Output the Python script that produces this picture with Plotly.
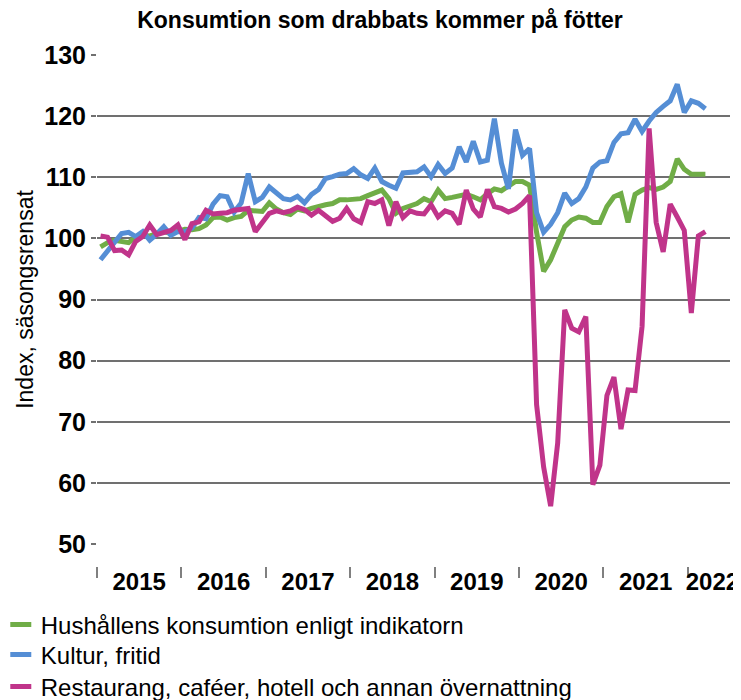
import plotly.graph_objects as go

years = ["2015", "2016", "2017", "2018", "2019", "2020", "2021", "2022"]
# Monthly values, Jan 2015 – Mar 2022
hushall = [
    98.6, 99.3, 99.7, 99.6, 99.3, 100.2, 100.5, 100.4, 100.8, 101.1, 100.8, 101.2,
    101.5, 101.4, 101.6, 102.2, 103.4, 103.5, 103.0, 103.4, 103.6, 104.6, 104.5, 104.4,
    105.8, 104.8, 104.2, 103.9, 104.8, 104.5, 104.9, 105.3, 105.5, 105.7, 106.3, 106.3,
    106.5, 106.5, 107.0, 107.5, 107.9, 106.5, 104.1, 104.9, 105.3, 105.7, 106.5, 106.0,
    107.9, 106.5, 106.7, 106.9, 107.2, 106.8, 106.3, 107.3, 108.1, 107.8, 108.5, 109.3,
    109.3, 108.7, 101.0, 94.6, 96.5, 99.2, 101.9, 103.0, 103.5, 103.3, 102.6, 102.6,
    105.2, 106.8, 107.3, 102.6, 107.2, 107.9, 108.3, 108.0, 108.4, 109.3, 113.0, 111.3,
    110.5, 110.5, 110.5,
]
kultur = [
    96.5, 97.9, 99.2, 100.8, 101.0, 100.3, 101.1, 99.7, 100.7, 101.9, 100.5, 101.1,
    101.1, 101.7, 103.4, 103.2, 105.6, 107.0, 106.8, 104.3, 105.8, 110.6, 106.0, 106.7,
    108.4, 107.4, 106.5, 106.3, 106.9, 105.8, 107.2, 108.0, 109.8, 110.1, 110.5, 110.6,
    111.4, 110.4, 109.8, 111.5, 109.3, 108.7, 108.2, 110.7, 110.7, 110.9, 111.7, 110.1,
    112.1, 110.6, 111.5, 115.0, 112.5, 115.9, 112.5, 112.8, 119.6, 112.3, 108.1, 117.8,
    113.6, 114.7, 104.2, 101.0, 102.3, 104.2, 107.4, 105.7, 106.5, 108.4, 111.5, 112.5,
    112.7, 115.7, 117.1, 117.3, 119.5, 117.5, 119.2, 120.6, 121.6, 122.5, 125.2, 120.6,
    122.5, 122.1, 121.2,
]
restaurang = [
    100.4, 100.2, 98.0, 98.1, 97.3, 99.5, 100.3, 102.2, 100.6, 100.9, 101.3, 102.2,
    99.8, 102.4, 102.7, 104.6, 104.0, 104.1, 104.2, 104.6, 104.7, 104.9, 101.1, 102.7,
    104.1, 104.5, 104.2, 104.5, 105.1, 104.7, 103.8, 104.6, 103.6, 102.8, 103.3, 104.9,
    103.2, 102.6, 106.0, 105.7, 106.3, 102.1, 106.0, 103.4, 104.5, 104.1, 104.0, 105.5,
    103.5, 104.5, 104.1, 102.3, 107.9, 104.8, 103.5, 108.0, 105.2, 104.9, 104.3, 104.8,
    105.7, 107.0, 72.8, 62.6, 56.2, 66.5, 88.3, 85.3, 84.7, 87.2, 59.7, 62.9,
    74.3, 77.3, 68.8, 75.2, 75.1, 85.6, 118.0, 102.6, 97.8, 105.6, 103.5, 101.3,
    87.8, 100.4, 101.1,
]
names = [
    "Hushållens konsumtion enligt indikatorn",
    "Kultur, fritid",
    "Restaurang, caféer, hotell och annan övernattning",
]
colors = ["#70AD47", "#558ED5", "#C0348A"]

months = list(range(len(hushall)))
n_slots = 90
FONT = "Liberation Sans, Arial, sans-serif"

# page body has an 8px margin, so the figure is sized to the visible area
W, H = 733, 692
PLOT_L, PLOT_R, PLOT_T, PLOT_B = 89, 722, 47, 558
PH = PLOT_B - PLOT_T

year_label_pos = [12 * k + 5.5 for k in range(len(years) - 1)] + [87.0]
year_bounds = [12 * k - 0.5 for k in range(len(years))]

fig = go.Figure()
for vals, name, col in zip([hushall, kultur, restaurang], names, colors):
    fig.add_trace(go.Scatter(x=months, y=vals, mode="lines", name=name,
                             line=dict(color=col, width=5), showlegend=False,
                             hoverinfo="skip"))
legend_ids = ["legend", "legend2", "legend3"]
for name, col, lg in zip(names, colors, legend_ids):
    fig.add_trace(go.Scatter(x=[None], y=[None], mode="markers", name=name,
                             xaxis="x2",
                             marker=dict(symbol="line-ew", size=15,
                                         line=dict(color=col, width=5)),
                             showlegend=True, legend=lg))

legend_screen_y = [625, 655, 687]
legend_common = dict(x=-0.152, xanchor="left", yanchor="middle",
                     font=dict(size=24, family=FONT, color="black"),
                     bgcolor="rgba(0,0,0,0)", itemwidth=30)
legends = {}
for lg, sy in zip(legend_ids, legend_screen_y):
    d = dict(legend_common)
    d["y"] = (PLOT_B - (sy - 8)) / PH
    legends[lg] = d

fig.update_layout(
    width=W, height=H,
    margin=dict(l=PLOT_L, r=W - PLOT_R, t=PLOT_T, b=H - PLOT_B, autoexpand=False),
    plot_bgcolor="white", paper_bgcolor="white",
    font=dict(family=FONT, color="black"),
    title=dict(text="<b>Konsumtion som drabbats kommer på fötter</b>",
               x=372 / W, xref="container", xanchor="center",
               y=1 - 4 / H, yref="container", yanchor="top",
               pad=dict(t=0, b=0, l=0, r=0),
               font=dict(size=23, family=FONT, color="black")),
    xaxis=dict(range=[-0.5, n_slots - 0.5], showgrid=False, zeroline=False,
               showline=False, automargin=False, showticklabels=False,
               tickvals=year_bounds, ticks="outside", ticklen=11, tickwidth=1.5,
               tickcolor="#808080",
               anchor="free", position=0),
    xaxis2=dict(range=[-0.5, n_slots - 0.5], overlaying="x", matches="x",
                showgrid=False, zeroline=False, showline=False,
                automargin=False,
                tickvals=year_label_pos,
                ticktext=["<b>%s</b>" % y for y in years],
                ticks="", ticklen=0,
                tickfont=dict(size=24, family=FONT, color="black"),
                anchor="free", position=1 / PH, side="bottom"),
    yaxis=dict(range=[50, 130], domain=[22 / PH, 1], dtick=10,
               showgrid=True, gridcolor="#707070", gridwidth=1.6,
               zeroline=False, showline=False, automargin=False,
               ticks="outside", ticklen=5, tickcolor="#707070", tickwidth=1.5,
               tickfont=dict(size=25, family=FONT, color="black"),
               tickprefix="<b>", ticksuffix="</b>",
               title=dict(text="Index, säsongsrensat", standoff=4,
                          font=dict(size=23, family=FONT, color="black"))),
    showlegend=True,
    **legends,
)

fig.write_html("out.html")
